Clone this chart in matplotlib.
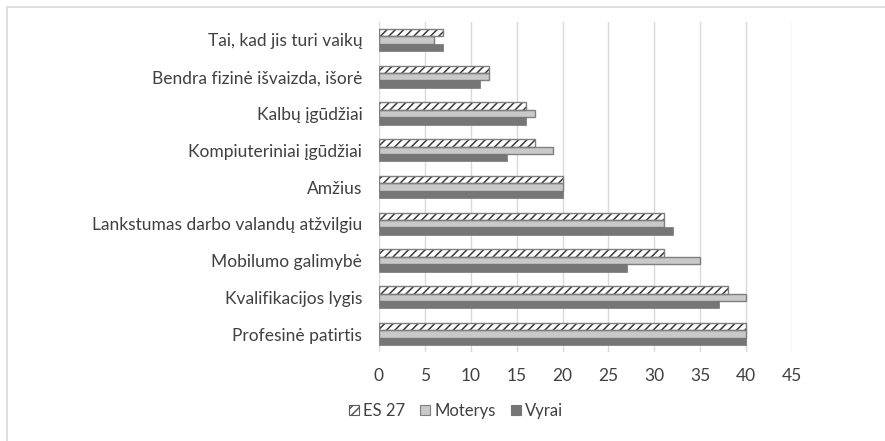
import numpy as np
import matplotlib
matplotlib.use('Agg')
import matplotlib.pyplot as plt
from matplotlib.patches import Patch, Rectangle

# categories listed from bottom to top
categories = ['Profesinė patirtis', 'Kvalifikacijos lygis', 'Mobilumo galimybė',
              'Lankstumas darbo valandų atžvilgiu', 'Amžius', 'Kompiuteriniai įgūdžiai',
              'Kalbų įgūdžiai', 'Bendra fizinė išvaizda, išorė', 'Tai, kad jis turi vaikų']
es27 = [40, 38, 31, 31, 20, 17, 16, 12, 7]
moterys = [40, 40, 35, 31, 20, 19, 17, 12, 6]
vyrai = [40, 37, 27, 32, 20, 14, 16, 11, 7]
xticks = [0, 5, 10, 15, 20, 25, 30, 35, 40, 45]

plt.rcParams['font.family'] = ['Lato', 'DejaVu Sans']
plt.rcParams['hatch.linewidth'] = 1.1
txt = '#404040'
fs = 12.5

fig = plt.figure(figsize=(8.85, 4.41), dpi=100)
ax = fig.add_axes([379 / 885, 1 - 352.4 / 441, (792 - 379) / 885, (352.4 - 21.6) / 441])

y = np.arange(len(categories))
h = 0.2
ax.barh(y + h, es27, height=h, color='white', hatch='////', edgecolor='#3a3a3a', linewidth=0, zorder=3)
ax.barh(y + h, es27, height=h, fill=False, edgecolor='#7f7f7f', linewidth=1, zorder=4)
ax.barh(y, moterys, height=h, color='#c9c9c9', edgecolor='#7f7f7f', linewidth=1, zorder=3)
ax.barh(y - h, vyrai, height=h, color='#767676', edgecolor='#767676', linewidth=0.5, zorder=3)

ax.set_xlim(0, 45)
ax.set_ylim(-0.5, len(categories) - 0.5)
ax.set_xticks(xticks)
ax.set_yticks(y)
ax.set_yticklabels(categories)
ax.tick_params(axis='both', length=0, labelsize=fs, labelcolor=txt)
ax.tick_params(axis='y', pad=12)
ax.tick_params(axis='x', pad=11)
ax.grid(axis='x', color='#d9d9d9', linewidth=1, zorder=0)
for s in ax.spines.values():
    s.set_visible(False)

handles = [Patch(facecolor='white', hatch='////', edgecolor='#595959', linewidth=0.8, label='ES 27'),
           Patch(facecolor='#c9c9c9', edgecolor='#7f7f7f', linewidth=0.8, label='Moterys'),
           Patch(facecolor='#767676', edgecolor='#767676', linewidth=0.8, label='Vyrai')]
fig.legend(handles=handles, loc='center', bbox_to_anchor=(456 / 885, 1 - 411 / 441), ncol=3,
           frameon=False, fontsize=12, labelcolor=txt, handlelength=0.6, handleheight=0.6,
           handletextpad=0.25, columnspacing=0.9)

# light chart frame
fig.patches.append(Rectangle((7 / 885, -0.05), 1.1, 1 - 7 / 441 + 0.05, transform=fig.transFigure,
                             fill=False, edgecolor='#d9d9d9', linewidth=1.2))

fig.savefig('out.png', dpi=100)
